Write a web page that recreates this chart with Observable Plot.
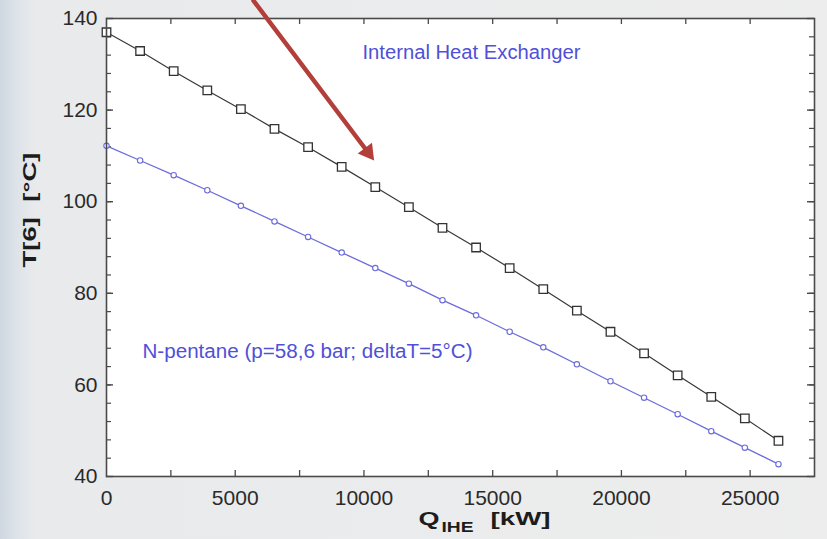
<!DOCTYPE html>
<html><head><meta charset="utf-8">
<script src="https://cdn.jsdelivr.net/npm/d3@7"></script>
<script src="https://cdn.jsdelivr.net/npm/@observablehq/plot@0.6"></script>
<style>
html,body{margin:0;padding:0;}
body{width:827px;height:539px;overflow:hidden;background:linear-gradient(to right,#cfd7e0 0px,#dde3e9 16px,#e8eaec 34px,#ededed 100%);font-family:"Liberation Sans",Arial,sans-serif;}
#chart svg{display:block;background:transparent;}
</style></head><body><div id="chart"></div>
<script>
// Q_IHE [kW]
const qIHE = [0,1305,2610,3915,5220,6525,7830,9135,10440,11745,13050,14355,15660,16965,18270,19575,20880,22185,23490,24795,26100];
// T[6] [°C] – black series (squares)
const tBlack = [137.0,132.9,128.5,124.3,120.2,115.9,111.9,107.6,103.2,98.8,94.3,90.0,85.5,80.9,76.2,71.6,66.9,62.1,57.4,52.7,47.8];
// T[6] [°C] – blue series, N-pentane (circles)
const tBlue = [112.2,109.0,105.8,102.5,99.1,95.7,92.3,88.9,85.5,82.1,78.5,75.2,71.6,68.2,64.5,60.8,57.2,53.6,49.9,46.3,42.7];

const xMajor = [0,5000,10000,15000,20000,25000];
const xMinor = [2500,5000,7500,10000,12500,15000,17500,20000,22500,25000];
const yMajor = [40,60,80,100,120,140];
const yMinor = [44,48,52,56,60,64,68,72,76,80,84,88,92,96,100,104,108,112,116,120,124,128,132,136];

const labelInternal = ["Internal Heat Exchanger"];
const labelPentane = ["N-pentane (p=58,6 bar; deltaT=5°C)"];
// annotation arrow (data coordinates)
const arrowX = [5709, 10155];
const arrowY = [143.9, 110.8];

const black = qIHE.map((q,i)=>({q, t:tBlack[i]}));
const blue = qIHE.map((q,i)=>({q, t:tBlue[i]}));

const axisColor = "#4a4a4a";
const txtColor = "#2a2a2a";
const annColor = "#5050d8";
const titleColor = "#1c1c1c";

// plot frame is 708 x 458 px
const plot = Plot.plot({
  width: 827, height: 539,
  marginLeft: 106, marginRight: 13, marginTop: 18, marginBottom: 63,
  style: {background: "transparent", fontFamily: "Liberation Sans, Arial, sans-serif", overflow: "visible"},
  x: {domain: [0, 27500]},
  y: {domain: [40, 140]},
  marks: [
    Plot.frame({fill: "white", stroke: null}),
    // inward ticks
    Plot.tickX(xMinor, {x: d => d, insetTop: 452, stroke: axisColor, strokeWidth: 1.3}),
    Plot.tickX(xMinor, {x: d => d, insetBottom: 452, stroke: axisColor, strokeWidth: 1.3}),
    Plot.tickY(yMinor, {y: d => d, insetRight: 703, stroke: axisColor, strokeWidth: 1.2}),
    Plot.tickY(yMinor, {y: d => d, insetLeft: 703, stroke: axisColor, strokeWidth: 1.2}),
    Plot.tickY(yMajor, {y: d => d, insetRight: 701, stroke: axisColor, strokeWidth: 1.4}),
    Plot.tickY(yMajor, {y: d => d, insetLeft: 701, stroke: axisColor, strokeWidth: 1.4}),
    // tick labels
    Plot.axisX(xMajor, {anchor: "bottom", tickSize: 0, tickPadding: 14, fontSize: 21, fill: txtColor, label: null, tickFormat: d => String(d)}),
    Plot.axisY(yMajor, {anchor: "left", tickSize: 0, tickPadding: 9, fontSize: 21, fill: txtColor, label: null, tickFormat: d => String(d)}),
    // series
    Plot.line(black, {x: "q", y: "t", stroke: "#383838", strokeWidth: 1.2}),
    Plot.dot(black, {x: "q", y: "t", symbol: "square", r: 4.8, fill: "white", stroke: "#333", strokeWidth: 1.3}),
    Plot.line(blue, {x: "q", y: "t", stroke: "#6c6cdc", strokeWidth: 1.3}),
    Plot.dot(blue, {x: "q", y: "t", symbol: "circle", r: 2.7, fill: "white", stroke: "#6c6cdc", strokeWidth: 1.1}),
    // annotations
    Plot.text(labelInternal, {x: () => 9942, y: () => 132.6, text: d => d, textAnchor: "start", fontSize: 19.5, fill: annColor}),
    Plot.text(labelPentane, {x: () => 1398, y: () => 67.2, text: d => d, textAnchor: "start", fontSize: 19.5, fill: annColor}),
    // frame
    Plot.frame({stroke: "#4a4a4a", strokeWidth: 1.6}),
    // arrow
    Plot.line(arrowX.map((x,i)=>({x, y: arrowY[i]})), {x: "x", y: "y", stroke: "#b23f3a", strokeWidth: 4.5, clip: false}),
    Plot.dot([{x: arrowX[1], y: arrowY[1]}], {x: "x", y: "y", symbol: "triangle2", r: 8.5, fill: "#b23f3a", stroke: null, rotate: 143}),
    // axis titles
    Plot.text(["T[6]  [°C]"], {frameAnchor: "left", dx: -76, dy: 20, rotate: -90, fontSize: 18, fontWeight: "bold", fill: titleColor, text: d => d}),
    Plot.text(["Q"], {frameAnchor: "bottom-left", dx: 312, dy: 48, textAnchor: "start", fontSize: 19, fontWeight: "bold", fill: titleColor, text: d => d}),
    Plot.text(["IHE"], {frameAnchor: "bottom-left", dx: 335, dy: 55, textAnchor: "start", fontSize: 14, fontWeight: "bold", fill: titleColor, text: d => d}),
    Plot.text(["[kW]"], {frameAnchor: "bottom-left", dx: 384, dy: 48, textAnchor: "start", fontSize: 19, fontWeight: "bold", fill: titleColor, text: d => d})
  ]
});
// stretch texts to the widths measured on the reference
const fit = {"T[6]  [°C]": 115, "Q": 21, "IHE": 32, "[kW]": 60, "Internal Heat Exchanger": 218, "N-pentane (p=58,6 bar; deltaT=5°C)": 330};
d3.select(plot).selectAll("text").each(function() {
  const t = this.textContent;
  if (fit[t]) {
    d3.select(this).attr("textLength", fit[t]).attr("lengthAdjust", "spacingAndGlyphs").style("white-space", "pre");
  }
});
document.getElementById("chart").appendChild(plot);
</script></body></html>
